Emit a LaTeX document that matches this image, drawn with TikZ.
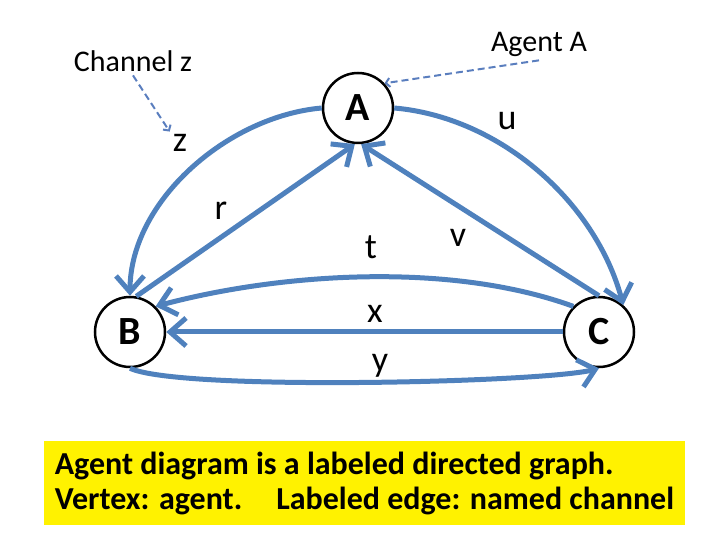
\documentclass[tikz,border=0pt]{standalone}
\usepackage{fontspec}
\setmainfont{Carlito}
\usetikzlibrary{arrows.meta,positioning}
\definecolor{chanblue}{HTML}{4F81BD}
\definecolor{noteblue}{HTML}{5A7EBE}
\tikzset{
    every node/.style={font=\fontsize{36}{38}\selectfont},
    agent/.style={circle,draw=black,line width=2.5pt,fill=white,minimum size=70pt,inner sep=0pt,font=\fontsize{40}{42}\selectfont\bfseries},
    chanlbl/.style={inner sep=3pt,anchor=base},
    note/.style={inner sep=3pt,anchor=base,font=\fontsize{30}{32}\selectfont},
    chan/.style={draw=chanblue,line width=5pt,-{Straight Barb[length=16pt,width=28pt]}},
    pointer/.style={draw=noteblue,line width=2pt,dash pattern=on 7pt off 4pt,-{Straight Barb[length=4pt,width=9pt]}},
    summary/.style={fill=yellow,align=left,inner xsep=8pt,inner ysep=0pt,minimum width=641pt,minimum height=84pt,font=\fontsize{32}{35}\selectfont\bfseries}
}
\begin{document}
\begin{tikzpicture}[x=1pt,y=1pt]
\useasboundingbox (0,0) rectangle (720,540);
% agents
\node[agent] (A) at (358,432) {A};
\node[agent] (B) at (130,208) {B};
\node[agent] (C) at (599,208) {C};
% channels
\draw[chan] (A.west) to[out=185,in=90,looseness=0.9] (B.north);
\draw[chan] (A.east) to[out=-5,in=105,looseness=0.9] (C.48);
\draw[chan] (B.80) -- (A.265);
\draw[chan] (C.north) -- (A.275);
\draw[chan] (C.135) to[out=160,in=15,looseness=0.8] (B.45);
\draw[chan] (C.west) -- (B.east);
\draw[chan] (B.south) to[out=-25,in=195,looseness=0.3] (C.south);
\foreach \ch/\x/\y in {z/180/388,u/507/410,r/221/320,v/458/293,t/371/281,x/375/217,y/380/168}
    \node[chanlbl] (l\ch) at (\x,\y) {\ch};
% notes
\node[note] (chanz) at (133,468) {Channel z};
\node[note] (agentA) at (539,488) {Agent A};
\draw[pointer] (chanz.south) -- (lz.north west);
\draw[pointer] (agentA.south) -- (A.43);
% caption
\node[summary] (sum) at (364.5,57) {Agent diagram is a labeled directed graph.\\
    Vertex: agent.\hspace{34pt}Labeled edge: named channel};
\end{tikzpicture}
\end{document}
